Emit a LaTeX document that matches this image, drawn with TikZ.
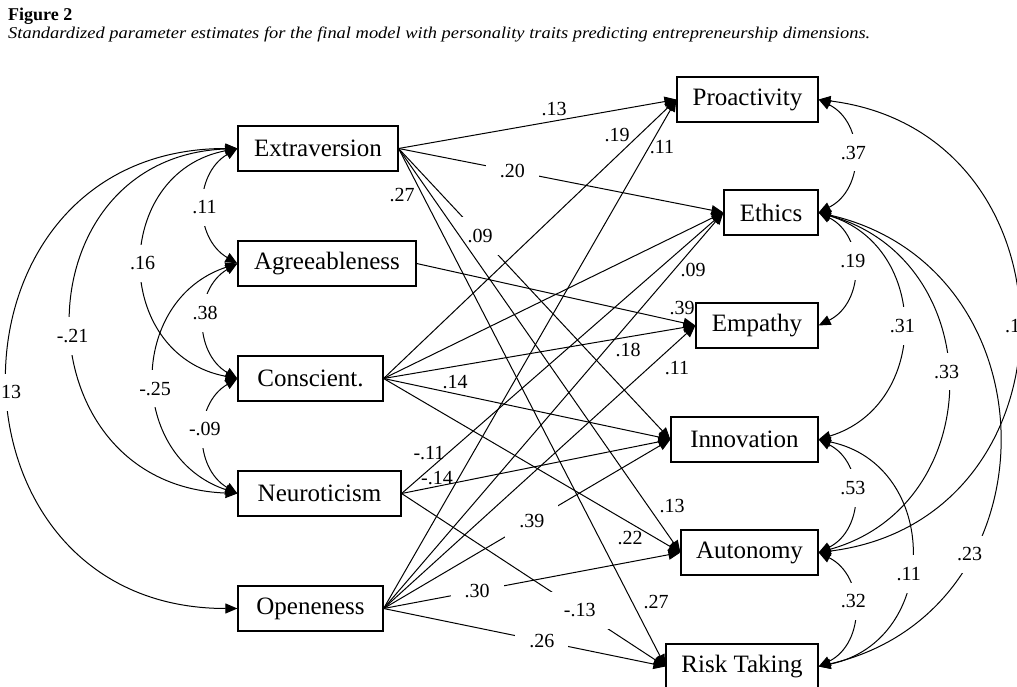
\documentclass[tikz,border=0pt]{standalone}
\usepackage{fontspec}
\setmainfont{Liberation Serif}
\usepackage{graphicx}
\usetikzlibrary{arrows.meta}
\tikzset{
  varbox/.style={draw, line width=1.2pt, minimum height=45pt, inner sep=0pt, font=\fontsize{25}{30}\selectfont},
  regr/.style={line width=1pt, -{Triangle[length=12pt,width=10pt]}},
  covar/.style={line width=1pt, {Triangle[length=12pt,width=10pt]}-{Triangle[length=12pt,width=10pt]}},
  sidelab/.style={font=\fontsize{20}{24}\selectfont, inner sep=0pt},
  gaplab/.style={sidelab, fill=white, inner xsep=14pt, inner ysep=12pt},
}
\begin{document}
\begin{tikzpicture}[x=1pt,y=1pt]
\useasboundingbox (0,0) rectangle (1017,686);
% header
\node[anchor=base west, inner sep=0pt, font=\fontsize{18}{20}\selectfont\bfseries] (fig) at (8,665) {Figure 2};
\node[anchor=base west, inner sep=0pt] (cap) at (8,647) {\resizebox{862pt}{\height}{\fontsize{16.5}{20}\selectfont\itshape Standardized parameter estimates for the final model with personality traits predicting entrepreneurship dimensions.}};
% predictors
\node[varbox, minimum width=160pt] (ext) at (318,537.5) {Extraversion};
\node[varbox, minimum width=178pt] (agr) at (327,422.5) {Agreeableness};
\node[varbox, minimum width=145pt] (con) at (310.5,307.5) {Conscient.};
\node[varbox, minimum width=163pt] (neu) at (319.5,192.5) {Neuroticism};
\node[varbox, minimum width=145pt] (ope) at (310.5,77.5) {Openeness};
% outcomes
\node[varbox, minimum width=141pt] (pro) at (747.5,586.5) {Proactivity};
\node[varbox, minimum width=94pt] (eth) at (771,473.5) {Ethics};
\node[varbox, minimum width=122pt] (emp) at (757,360.5) {Empathy};
\node[varbox, minimum width=147pt] (inn) at (744.5,246.5) {Innovation};
\node[varbox, minimum width=137pt] (aut) at (749.5,133.5) {Autonomy};
\node[varbox, minimum width=152pt] (risk) at (742,19.5) {Risk Taking};
% paths with gapped labels
\draw[regr] (ext.east) -- node[gaplab,pos=.35]{.20} (eth.west);
\draw[regr] (ext.east) -- node[gaplab,pos=.30]{.09} (inn.west);
\draw[regr] (ope.east) -- node[gaplab,pos=.517]{.39} (inn.west);
\draw[regr] (ope.east) -- node[gaplab,pos=.315]{.30} (aut.west);
\draw[regr] (ope.east) -- node[gaplab,pos=.562]{.26} (risk.west);
\draw[regr] (neu.east) -- node[gaplab,pos=.675]{-.13} (risk.west);
% other paths
\draw[regr] (ext.east) -- (pro.west);
\draw[regr] (ext.east) -- (aut.west);
\draw[regr] (ext.east) -- (risk.west);
\draw[regr] (agr.east) -- (emp.west);
\draw[regr] (con.east) -- (pro.west);
\draw[regr] (con.east) -- (eth.west);
\draw[regr] (con.east) -- (emp.west);
\draw[regr] (con.east) -- (inn.west);
\draw[regr] (con.east) -- (aut.west);
\draw[regr] (neu.east) -- (eth.west);
\draw[regr] (neu.east) -- (inn.west);
\draw[regr] (ope.east) -- (pro.west);
\draw[regr] (ope.east) -- (eth.west);
\draw[regr] (ope.east) -- (emp.west);
% side labels
\node[sidelab] (l1) at (554,577) {.13};
\node[sidelab] (l2) at (402,491) {.27};
\node[sidelab] (l3) at (617,551) {.19};
\node[sidelab] (l4) at (662,539) {.11};
\node[sidelab] (l5) at (693,416) {.09};
\node[sidelab] (l6) at (682,378) {.39};
\node[sidelab] (l7) at (628,336) {.18};
\node[sidelab] (l8) at (677,318) {.11};
\node[sidelab] (l9) at (455,304) {.14};
\node[sidelab] (l10) at (429,233) {-.11};
\node[sidelab] (l11) at (437,208) {-.14};
\node[sidelab] (l12) at (672,180) {.13};
\node[sidelab] (l13) at (630,148) {.22};
\node[sidelab] (l14) at (656,84) {.27};
% left covariances
\draw[covar] (ext.west) to[out=210.3,in=149.7,looseness=1.132] node[gaplab,pos=.51]{.11} (agr.west);
\draw[covar] (ext.west) to[out=190.7,in=169.3,looseness=1.433] node[gaplab,pos=.5]{.16} (con.west);
\draw[covar] (ext.west) to[out=182.2,in=177.8,looseness=1.64] node[gaplab,pos=.53]{-.21} (neu.west);
\draw[covar] (ext.west) to[out=180,in=180,looseness=1.703] node[gaplab,pos=.52]{.13} (ope.west);
\draw[covar] (agr.west) to[out=210.3,in=149.7,looseness=1.132] node[gaplab,pos=.44]{.38} (con.west);
\draw[covar] (agr.west) to[out=198.3,in=161.7,looseness=1.294] node[gaplab,pos=.535]{-.25} (neu.west);
\draw[covar] (con.west) to[out=210.3,in=149.7,looseness=1.132] node[gaplab,pos=.45]{-.09} (neu.west);
% right covariances
\draw[covar] (pro.east) to[out=-26.5,in=26.5,looseness=1.179] node[gaplab,pos=.475]{.37} (eth.east);
\draw[covar] (pro.east) to[out=-7.1,in=7.1,looseness=1.514] node[gaplab,pos=.5]{.17} (aut.east);
\draw[covar] (eth.east) to[out=-26.5,in=26.5,looseness=1.179] node[gaplab,pos=.44]{.19} (emp.east);
\draw[covar] (eth.east) to[out=-17,in=17,looseness=1.318] node[gaplab,pos=.5]{.31} (inn.east);
\draw[covar] (eth.east) to[out=-15.6,in=15.6,looseness=1.341] node[gaplab,pos=.475]{.33} (aut.east);
\draw[covar] (eth.east) to[out=-13,in=13,looseness=1.389] node[gaplab,pos=.70]{.23} (risk.east);
\draw[covar] (inn.east) to[out=-26.5,in=26.5,looseness=1.179] node[gaplab,pos=.44]{.53} (aut.east);
\draw[covar] (inn.east) to[out=-11.7,in=11.7,looseness=1.414] node[gaplab,pos=.57]{.11} (risk.east);
\draw[covar] (aut.east) to[out=-26.5,in=26.5,looseness=1.179] node[gaplab,pos=.44]{.32} (risk.east);
\end{tikzpicture}
\end{document}
